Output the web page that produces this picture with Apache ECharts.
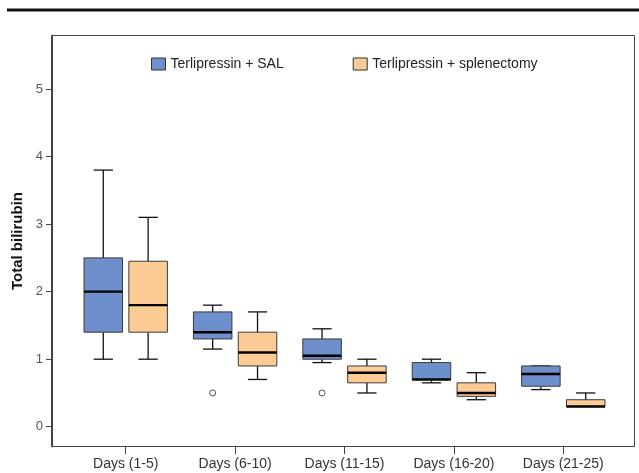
<!DOCTYPE html>
<html><head><meta charset="utf-8">
<script src="https://cdn.jsdelivr.net/npm/echarts@6/dist/echarts.min.js"></script>
<style>html,body{margin:0;padding:0;background:#fff}#c{width:639px;height:473px}</style>
</head><body><div id="c"></div>
<script>
const categories = ['Days (1-5)', 'Days (6-10)', 'Days (11-15)', 'Days (16-20)', 'Days (21-25)'];
const seriesNames = ['Terlipressin + SAL', 'Terlipressin + splenectomy'];
// each box: [min, Q1, median, Q3, max]
const salBoxes = [
  [1.0, 1.4, 2.0, 2.5, 3.8],
  [1.15, 1.3, 1.4, 1.7, 1.8],
  [0.95, 1.0, 1.05, 1.3, 1.45],
  [0.65, 0.7, 0.7, 0.95, 1.0],
  [0.55, 0.6, 0.78, 0.9, 0.9]
];
const splBoxes = [
  [1.0, 1.4, 1.8, 2.45, 3.1],
  [0.7, 0.9, 1.1, 1.4, 1.7],
  [0.5, 0.65, 0.8, 0.9, 1.0],
  [0.4, 0.45, 0.5, 0.65, 0.8],
  [0.3, 0.3, 0.3, 0.4, 0.5]
];
// outliers: [category index, value]
const salOutliers = [[1, 0.5], [2, 0.5]];
const splOutliers = [];
const yTicks = [0, 1, 2, 3, 4, 5];

const colors = ['#6D8FCB', '#FDCB96'];
const boxWidthFrac = 0.352;
const offsets = [-0.205, 0.205];

function boxRenderer(offsetFrac, fill) {
  return function (params, api) {
    const i = api.value(0);
    const band = api.size([1, 0])[0];
    const w = band * boxWidthFrac;
    const cx = api.coord([i, 0])[0] + offsetFrac * band;
    const y = k => api.coord([i, api.value(k)])[1];
    const yMin = y(1), yQ1 = y(2), yMed = y(3), yQ3 = y(4), yMax = y(5);
    const cap = w / 2;
    const ls = { stroke: '#111', lineWidth: 1.3 };
    return {
      type: 'group',
      children: [
        { type: 'line', shape: { x1: cx, y1: yMax, x2: cx, y2: yQ3 }, style: ls },
        { type: 'line', shape: { x1: cx, y1: yQ1, x2: cx, y2: yMin }, style: ls },
        { type: 'line', shape: { x1: cx - cap / 2, y1: yMax, x2: cx + cap / 2, y2: yMax }, style: ls },
        { type: 'line', shape: { x1: cx - cap / 2, y1: yMin, x2: cx + cap / 2, y2: yMin }, style: ls },
        { type: 'rect', shape: { x: cx - w / 2, y: yQ3, width: w, height: yQ1 - yQ3 }, style: { fill: fill, stroke: '#3a3a3a', lineWidth: 1 } },
        { type: 'line', shape: { x1: cx - w / 2, y1: yMed, x2: cx + w / 2, y2: yMed }, style: { stroke: '#000', lineWidth: 2.4 } }
      ]
    };
  };
}
function outlierRenderer(offsetFrac) {
  return function (params, api) {
    const i = api.value(0);
    const band = api.size([1, 0])[0];
    const p = api.coord([i, api.value(1)]);
    return { type: 'circle', shape: { cx: p[0] + offsetFrac * band, cy: p[1], r: 3 }, style: { fill: '#fff', stroke: '#555', lineWidth: 1 } };
  };
}

const chart = echarts.init(document.getElementById('c'));
chart.setOption({
  animation: false,
  textStyle: { fontFamily: 'Liberation Sans, Arial, sans-serif' },
  grid: { left: 71, right: 21, top: 35, bottom: 26, containLabel: false },
  legend: {
    data: seriesNames.map(n => ({ name: n })),
    left: 151, top: 57, padding: 0, itemGap: 69, itemWidth: 14, itemHeight: 12, icon: 'rect',
    itemStyle: { borderColor: '#333', borderWidth: 1 },
    textStyle: { fontSize: 14, color: '#222' }
  },
  xAxis: {
    type: 'category', data: categories, boundaryGap: true,
    axisLine: { show: false, onZero: false },
    axisTick: { show: true, alignWithLabel: true, length: 7, lineStyle: { color: '#444' } },
    axisLabel: { fontSize: 14, color: '#333', margin: 10 },
    splitLine: { show: false }
  },
  yAxis: {
    type: 'value', min: -0.3, max: 5.8, offset: 19,
    splitLine: { show: false },
    axisLine: { show: true, lineStyle: { color: '#444' } },
    axisTick: { show: true, length: 6, customValues: yTicks, lineStyle: { color: '#444' } },
    axisLabel: { customValues: yTicks, fontSize: 13, color: '#555', margin: 9 },
    name: 'Total bilirubin', nameLocation: 'middle', nameGap: 25,
    nameTextStyle: { fontWeight: 'bold', fontSize: 15, color: '#111' }
  },
  graphic: [
    { type: 'line', shape: { x1: 7, y1: 10, x2: 639, y2: 10 }, style: { stroke: '#111', lineWidth: 2.8 } },
    { type: 'rect', shape: { x: 51.5, y: 35.5, width: 583, height: 411 }, style: { fill: null, stroke: '#444', lineWidth: 1 } }
  ],
  series: [
    {
      name: seriesNames[0], type: 'custom', itemStyle: { color: colors[0] },
      renderItem: boxRenderer(offsets[0], colors[0]),
      encode: { x: 0, y: [1, 2, 3, 4, 5] },
      data: salBoxes.map((b, i) => [i].concat(b))
    },
    {
      name: seriesNames[1], type: 'custom', itemStyle: { color: colors[1] },
      renderItem: boxRenderer(offsets[1], colors[1]),
      encode: { x: 0, y: [1, 2, 3, 4, 5] },
      data: splBoxes.map((b, i) => [i].concat(b))
    },
    {
      name: 'SAL outliers', type: 'custom', renderItem: outlierRenderer(offsets[0]),
      encode: { x: 0, y: 1 }, data: salOutliers
    },
    {
      name: 'Splenectomy outliers', type: 'custom', renderItem: outlierRenderer(offsets[1]),
      encode: { x: 0, y: 1 }, data: splOutliers
    }
  ]
});
</script>
</body></html>
